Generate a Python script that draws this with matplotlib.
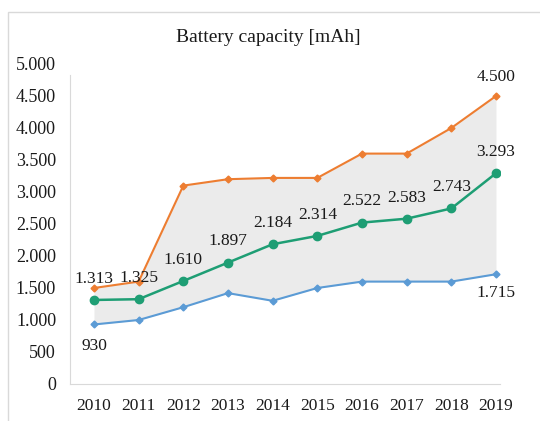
import matplotlib
matplotlib.use("Agg")
import matplotlib.pyplot as plt
from matplotlib.patches import Rectangle
from matplotlib.ticker import FuncFormatter

years = ["2010", "2011", "2012", "2013", "2014", "2015", "2016", "2017", "2018", "2019"]
max_cap = [1500, 1600, 3100, 3200, 3220, 3220, 3600, 3600, 4000, 4500]
avg_cap = [1313, 1325, 1610, 1897, 2184, 2314, 2522, 2583, 2743, 3293]
min_cap = [930, 1000, 1200, 1420, 1300, 1500, 1600, 1600, 1600, 1715]

def fmt(v):
    return f"{int(v):,}".replace(",", ".")

plt.rcParams['font.family'] = ['Liberation Serif', 'DejaVu Serif']

W, H = 540, 421
fig = plt.figure(figsize=(W / 100, H / 100), dpi=100)

# outer border
fig.patches.append(Rectangle((8 / W, -0.01), 1.0, (H - 12) / H + 0.01,
                             transform=fig.transFigure, fill=False,
                             edgecolor="#d9d9d9", linewidth=1.0))

ax = fig.add_axes([70 / W, (H - 384) / H, 430 / W, 320 / H])
x = list(range(len(years)))

ax.fill_between(x, min_cap, max_cap, color="#ebebeb", linewidth=0, zorder=1)
ax.plot(x, max_cap, color="#ED7D31", marker="D", markersize=3.5, linewidth=1.5, zorder=3)
ax.plot(x, min_cap, color="#5B9BD5", marker="D", markersize=3.5, linewidth=1.5, zorder=3)
ax.plot(x, avg_cap, color="#1E9E74", marker="o", markersize=6, linewidth=1.8, zorder=4)

ax.set_xlim(-0.537, 9.09)
ax.set_ylim(0, 5000)
ax.set_yticks(range(0, 5001, 500))
ax.yaxis.set_major_formatter(FuncFormatter(lambda v, p: fmt(v)))
ax.set_xticks(x)
ax.set_xticklabels(years)
ax.tick_params(axis="both", length=0, colors="#1a1a1a")
ax.tick_params(axis="y", pad=10, labelsize=13)
ax.tick_params(axis="x", pad=10, labelsize=12.5)

for s in ["top", "right"]:
    ax.spines[s].set_visible(False)
ax.spines["left"].set_color("#d9d9d9")
ax.spines["bottom"].set_color("#d9d9d9")
ax.spines["left"].set_bounds(0, 4830)

lblkw = dict(ha="center", va="center", fontsize=12.5, color="#1a1a1a", zorder=5)
for i, v in enumerate(avg_cap):
    ax.text(i, v + 330, fmt(v), **lblkw)
ax.text(0, min_cap[0] - 340, fmt(min_cap[0]), **lblkw)
ax.text(9, min_cap[9] - 300, fmt(min_cap[9]), **lblkw)
ax.text(9, max_cap[9] + 300, fmt(max_cap[9]), **lblkw)

fig.text(268 / W, 1 - 37 / H, "Battery capacity [mAh]", ha="center", va="center",
         fontsize=14, color="#1a1a1a")

fig.savefig("out.png", dpi=100)
